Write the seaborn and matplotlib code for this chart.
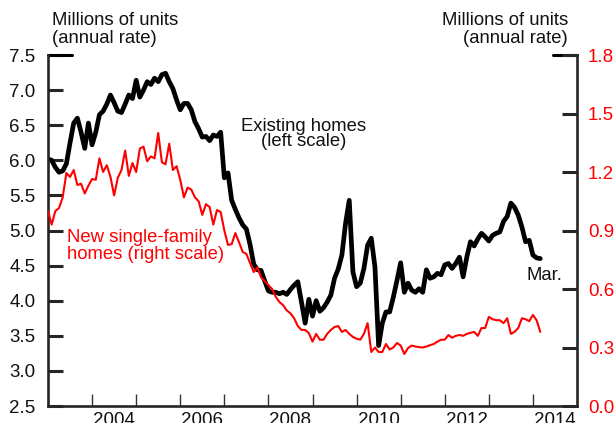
import numpy as np
import pandas as pd
import seaborn as sns
import matplotlib
matplotlib.use("Agg")
import matplotlib.pyplot as plt

# monthly, Jan 2003 - Mar 2014, millions of units (annual rate)
existing = [
    6.02, 6.00, 5.90, 5.83, 5.85, 5.95, 6.25, 6.53, 6.60, 6.40, 6.17, 6.53,
    6.22, 6.40, 6.65, 6.70, 6.80, 6.93, 6.82, 6.70, 6.68, 6.80, 6.93, 6.88,
    7.14, 6.90, 7.00, 7.12, 7.08, 7.17, 7.12, 7.22, 7.24, 7.12, 7.02, 6.86,
    6.72, 6.81, 6.81, 6.72, 6.55, 6.45, 6.33, 6.34, 6.28, 6.36, 6.34, 6.40,
    5.75, 5.82, 5.43, 5.30, 5.18, 5.08, 5.02, 4.80, 4.52, 4.44, 4.43, 4.28,
    4.14, 4.12, 4.12, 4.10, 4.12, 4.09, 4.16, 4.22, 4.27, 3.98, 3.68, 4.02,
    3.78, 4.00, 3.85, 3.90, 3.98, 4.08, 4.32, 4.45, 4.65, 5.10, 5.43, 4.41,
    4.20, 4.25, 4.46, 4.79, 4.89, 4.48, 3.36, 3.68, 3.84, 3.84, 4.05, 4.29,
    4.54, 4.12, 4.25, 4.15, 4.12, 4.17, 4.12, 4.44, 4.32, 4.34, 4.39, 4.37,
    4.51, 4.53, 4.46, 4.53, 4.62, 4.34, 4.62, 4.84, 4.78, 4.88, 4.96, 4.91,
    4.85, 4.93, 4.96, 4.98, 5.13, 5.20, 5.39, 5.33, 5.22, 5.05, 4.84, 4.86,
    4.65, 4.61, 4.60,
]
new_single = [
    1.00, 0.93, 1.00, 1.015, 1.07, 1.195, 1.175, 1.21, 1.133, 1.14, 1.09, 1.13,
    1.164, 1.16, 1.27, 1.20, 1.235, 1.175, 1.08, 1.17, 1.21, 1.31, 1.18, 1.246,
    1.20, 1.32, 1.33, 1.255, 1.28, 1.27, 1.40, 1.25, 1.24, 1.345, 1.21, 1.23,
    1.16, 1.07, 1.12, 1.11, 1.07, 1.05, 0.98, 1.035, 1.02, 0.93, 1.005, 0.995,
    0.90, 0.826, 0.83, 0.887, 0.84, 0.79, 0.78, 0.733, 0.687, 0.71, 0.66, 0.64,
    0.62, 0.60, 0.56, 0.533, 0.517, 0.49, 0.475, 0.45, 0.41, 0.39, 0.39, 0.374,
    0.33, 0.37, 0.34, 0.34, 0.37, 0.39, 0.405, 0.41, 0.38, 0.39, 0.37, 0.354,
    0.345, 0.34, 0.37, 0.425, 0.277, 0.30, 0.277, 0.277, 0.318, 0.29, 0.30, 0.323,
    0.31, 0.267, 0.297, 0.31, 0.305, 0.302, 0.30, 0.305, 0.312, 0.318, 0.33, 0.34,
    0.34, 0.364, 0.35, 0.36, 0.364, 0.36, 0.37, 0.375, 0.38, 0.36, 0.40, 0.40,
    0.457, 0.445, 0.44, 0.44, 0.425, 0.45, 0.37, 0.38, 0.40, 0.45, 0.445, 0.435,
    0.467, 0.44, 0.38,
]
year_ticks = list(range(2004, 2015))
year_labels = ["2004", "2006", "2008", "2010", "2012", "2014"]

df = pd.DataFrame({
    "year": 2003 + np.arange(len(existing)) / 12,
    "existing": existing,
    "new_single": new_single,
})

sns.set_style("ticks")
plt.rcParams["font.family"] = ["Liberation Sans", "DejaVu Sans"]
plt.rcParams["font.size"] = 13

W, H = 616, 423
fig = plt.figure(figsize=(W / 100, H / 100), dpi=100)
ax = fig.add_axes([48 / W, 17 / H, 529 / W, 351 / H])
ax2 = ax.twinx()

sns.lineplot(data=df, x="year", y="existing", ax=ax, color="black", lw=3.4)
sns.lineplot(data=df, x="year", y="new_single", ax=ax2, color="#ff0000", lw=1.5)

ax.set_xlim(2003, 2015)
ax.set_ylim(2.5, 7.5)
ax2.set_ylim(0, 1.8)
ax.set_xlabel("")
ax.set_ylabel("")
ax2.set_ylabel("")

ax.set_yticks(np.arange(2.5, 7.51, 0.5))
ax.set_yticklabels([f"{v:.1f}" for v in np.arange(2.5, 7.51, 0.5)])
ax2.set_yticks(np.arange(0, 1.81, 0.3))
ax2.set_yticklabels([f"{v:.1f}" for v in np.arange(0, 1.81, 0.3)])

ax.set_xticks(year_ticks)
ax.set_xticklabels([])
ax.set_xticks([int(y) + 0.5 for y in year_labels], minor=True)
ax.set_xticklabels(year_labels, minor=True)
ax.tick_params(axis="x", which="major", direction="in", length=9, width=1.0, color="#333333")
ax.tick_params(axis="x", which="minor", length=0, pad=4, labelsize=13.5, labelcolor="#111111")

ax.tick_params(axis="y", direction="in", length=11, width=2.2, pad=9, labelsize=13.5, labelcolor="#111111")
ax2.tick_params(axis="y", direction="in", length=11, width=2.2, pad=8, labelsize=13.5, labelcolor="#ff0000")

for a in (ax, ax2):
    a.spines["top"].set_visible(False)
    for s in ("left", "bottom", "right"):
        a.spines[s].set_linewidth(1.9)
ax.spines["right"].set_visible(False)
ax2.spines["left"].set_visible(False)
ax2.spines["bottom"].set_visible(False)

# short caps at top of both scales
ax.plot([0, 24 / 529], [1, 1], transform=ax.transAxes, color="black", lw=2.2, clip_on=False)
ax.plot([1 - 24 / 529, 1], [1, 1], transform=ax.transAxes, color="black", lw=2.2, clip_on=False)

fs = 13.3
fig.text(52 / W, 1 - 12 / H, "Millions of units\n(annual rate)", ha="left", va="top",
         fontsize=fs, linespacing=1.05, color="#111111")
fig.text(568 / W, 1 - 12 / H, "Millions of units\n(annual rate)", ha="right", va="top",
         fontsize=fs, linespacing=1.05, color="#111111", multialignment="right")
fig.text(304 / W, 1 - 134 / H, "Existing homes\n(left scale)", ha="center", va="center",
         fontsize=fs, linespacing=0.82, color="#111111")
fig.text(67 / W, 1 - 246 / H, "New single-family\nhomes (right scale)", ha="left", va="center",
         fontsize=fs, linespacing=0.95, color="#ff0000")
fig.text(526 / W, 1 - 275 / H, "Mar.", ha="left", va="center", fontsize=fs, color="#111111")

fig.savefig("out.png", dpi=100)
